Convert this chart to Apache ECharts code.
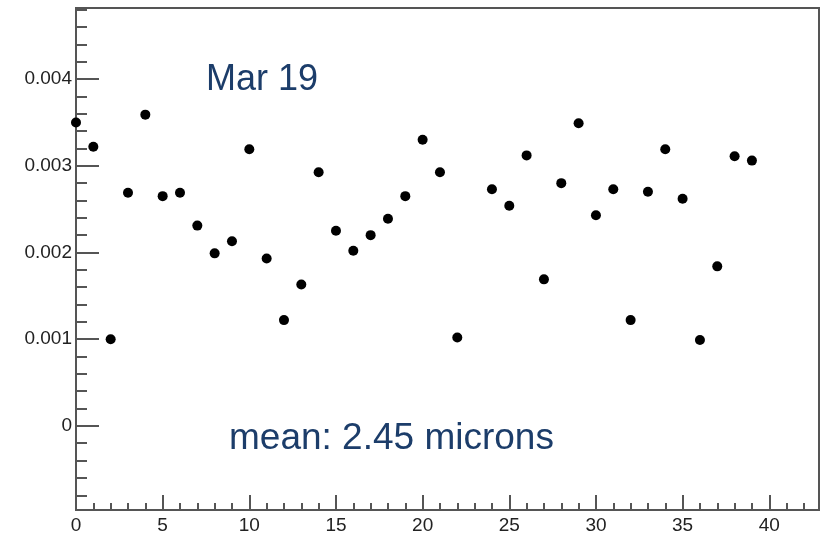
<!DOCTYPE html>
<html>
<head>
<meta charset="utf-8">
<script src="https://cdn.jsdelivr.net/npm/echarts@6/dist/echarts.min.js"></script>
<style>html,body{margin:0;padding:0;background:#fff}#c{width:820px;height:535px}</style>
</head>
<body>
<div id="c"></div>
<script>
// Data
const xValues = [0,1,2,3,4,5,6,7,8,9,10,11,12,13,14,15,16,17,18,19,20,21,22,24,25,26,27,28,29,30,31,32,33,34,35,36,37,38,39];
const yValues = [0.00350,0.00322,0.00100,0.00269,0.00359,0.00265,0.00269,0.00231,0.00199,0.00213,0.00319,0.00193,0.00122,0.00163,0.002925,0.00225,0.00202,0.00220,0.00239,0.00265,0.00330,0.002925,0.00102,0.00273,0.00254,0.00312,0.00169,0.00280,0.00349,0.00243,0.00273,0.00122,0.00270,0.00319,0.00262,0.00099,0.00184,0.00311,0.00306];
const xMajorTicks = [0,5,10,15,20,25,30,35,40];
const xMinorTicks = [1,2,3,4,6,7,8,9,11,12,13,14,16,17,18,19,21,22,23,24,26,27,28,29,31,32,33,34,36,37,38,39,41,42];
const yMajorTicks = [0,0.001,0.002,0.003,0.004];
const yMinorTicks = [-0.0008,-0.0006,-0.0004,-0.0002,0.0002,0.0004,0.0006,0.0008,0.0012,0.0014,0.0016,0.0018,0.0022,0.0024,0.0026,0.0028,0.0032,0.0034,0.0036,0.0038,0.0042,0.0044,0.0046,0.0048];
const titleText = 'Mar 19';
const meanText = 'mean: 2.45 microns';

const X_MIN = 0, X_MAX = 42.87, Y_MIN = -0.00097, Y_MAX = 0.00482;
const axisCol = '#555';
const font = 'Liberation Sans, Arial, sans-serif';

const points = xValues.map((x, i) => [x, yValues[i]]);

function tickAxis(min, max, ticks, len, pos, labels) {
  return {
    type: 'value', min: min, max: max, position: pos,
    axisLine: {show: false, onZero: false}, splitLine: {show: false},
    axisTick: {show: true, inside: true, length: len, lineStyle: {color: axisCol, width: 2}, customValues: ticks},
    axisLabel: labels ? Object.assign({customValues: ticks}, labels) : {show: false}
  };
}

const chart = echarts.init(document.getElementById('c'), null, {renderer: 'canvas'});
chart.setOption({
  animation: false,
  backgroundColor: '#fff',
  grid: {left: 76, top: 8, width: 743, height: 503, show: true, borderColor: axisCol, borderWidth: 2, backgroundColor: 'transparent'},
  xAxis: [
    tickAxis(X_MIN, X_MAX, xMajorTicks, 15, 'bottom', {show: true, margin: 6, color: '#222', fontSize: 19, fontFamily: font}),
    tickAxis(X_MIN, X_MAX, xMinorTicks, 7, 'bottom', null)
  ],
  yAxis: [
    tickAxis(Y_MIN, Y_MAX, yMajorTicks, 23, 'left', {show: true, margin: 4, color: '#222', fontSize: 19, fontFamily: font,
      formatter: v => v === 0 ? '0' : v.toFixed(3)}),
    tickAxis(Y_MIN, Y_MAX, yMinorTicks, 11, 'left', null)
  ],
  series: [{
    type: 'scatter', xAxisIndex: 0, yAxisIndex: 0, data: points,
    symbol: 'circle', symbolSize: 10, itemStyle: {color: '#000', opacity: 1}
  }],
  graphic: [
    {type: 'text', left: 206, top: 62, style: {text: titleText, fontSize: 36, fontFamily: font, fill: '#1c3d6a'}},
    {type: 'text', left: 229, top: 420, style: {text: meanText, fontSize: 37, fontFamily: font, fill: '#1c3d6a'}}
  ]
});
</script>
</body>
</html>
